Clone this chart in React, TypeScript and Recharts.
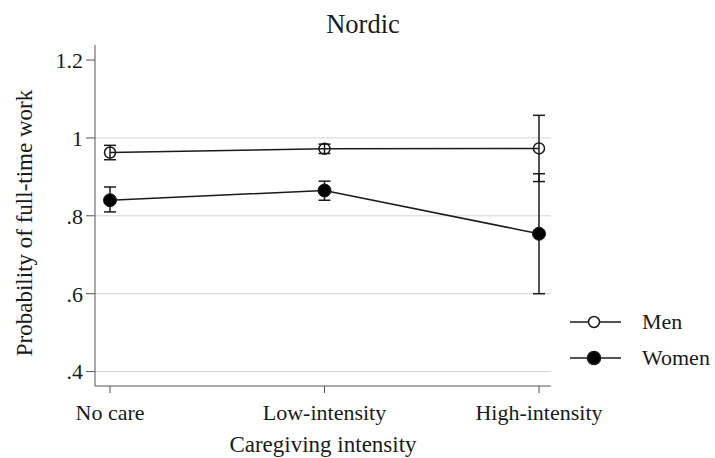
import { ErrorBar, Line, LineChart, ReferenceLine, XAxis, YAxis } from "recharts";

// Predicted probabilities with 95% CIs
const categories = ["No care", "Low-intensity", "High-intensity"];
const seriesNames = ["Men", "Women"];
const menValues = [0.9625, 0.972, 0.973];
const menLower = [0.944, 0.96, 0.888];
const menUpper = [0.981, 0.984, 1.058];
const womenValues = [0.84, 0.865, 0.754];
const womenLower = [0.81, 0.84, 0.6];
const womenUpper = [0.874, 0.889, 0.908];
const yTicks = [0.4, 0.6, 0.8, 1, 1.2];
const gridValues = [0.4, 0.6, 0.8, 1];

const data = categories.map((name, i) => ({
  x: i,
  name,
  men: menValues[i],
  menErr: [menValues[i] - menLower[i], menUpper[i] - menValues[i]],
  women: womenValues[i],
  womenErr: [womenValues[i] - womenLower[i], womenUpper[i] - womenValues[i]],
}));

const ink = "#1a1a1a";
const axisGray = "#555";
const font = "'Liberation Serif', 'Times New Roman', serif";
const fs = 22;
const titleFs = 23;

const fmtY = (v: number) => (v === 1 ? "1" : String(v).replace(/^0/, ""));

// title + legend drawn on top of the chart
function Overlay() {
  return (
    <svg width={715} height={458} style={{ position: "absolute", left: 0, top: 0, pointerEvents: "none" }}>
      <text x={363} y={33} textAnchor="middle" fontSize={26.5} fontFamily={font} fill={ink}>
        Nordic
      </text>
      {seriesNames.map((name, i) => {
        const y = 322 + i * 36;
        const hollow = i === 0;
        return (
          <g key={name}>
            <line x1={570} x2={621} y1={y} y2={y} stroke={ink} strokeWidth={1.5} />
            <circle cx={594} cy={y} r={hollow ? 5.5 : 6.5} fill={hollow ? "#fff" : "#000"} stroke={ink} strokeWidth={1.5} />
            <text x={642} y={y + 7} fontSize={fs} fontFamily={font} fill={ink}>
              {name}
            </text>
          </g>
        );
      })}
    </svg>
  );
}

export default function App() {
  return (
    <div style={{ position: "absolute", left: 0, top: 0, width: 715, height: 458, background: "#fff", fontFamily: font }}>
      <LineChart width={715} height={458} data={data} margin={{ top: 45, right: 164, bottom: 0, left: 0 }}>
        {gridValues.map((v) => (
          <ReferenceLine key={v} y={v} stroke="#d4d4d4" strokeWidth={1} />
        ))}
        <XAxis
          dataKey="x"
          type="number"
          domain={[-0.07, 2.056]}
          ticks={[0, 1, 2]}
          tickFormatter={(v: number) => categories[v]}
          height={72}
          stroke={axisGray}
          tickSize={7}
          tickMargin={11}
          tick={{ fill: ink, fontSize: fs, fontFamily: font }}
          allowDataOverflow
          label={{ value: "Caregiving intensity", position: "insideBottom", offset: 6, fill: ink, fontSize: titleFs, fontFamily: font }}
        />
        <YAxis
          type="number"
          domain={[0.363, 1.2386]}
          ticks={yTicks}
          tickFormatter={fmtY}
          width={95}
          stroke={axisGray}
          tickSize={9}
          tickMargin={3}
          tick={{ fill: ink, fontSize: fs, fontFamily: font }}
          allowDataOverflow
          label={{
            content: () => (
              <text x={32} y={223} transform="rotate(-90 32 223)" textAnchor="middle" fontSize={titleFs} fontFamily={font} fill={ink}>
                Probability of full-time work
              </text>
            ),
          }}
        />
        <Line
          name={seriesNames[0]}
          dataKey="men"
          stroke={ink}
          strokeWidth={1.5}
          dot={{ r: 5.5, fill: "none", stroke: ink, strokeWidth: 1.5 }}
          isAnimationActive={false}
        >
          <ErrorBar dataKey="menErr" width={6} stroke={ink} strokeWidth={1.5} direction="y" />
        </Line>
        <Line
          name={seriesNames[1]}
          dataKey="women"
          stroke={ink}
          strokeWidth={1.5}
          dot={{ r: 6.5, fill: "#000", stroke: ink, strokeWidth: 1 }}
          isAnimationActive={false}
        >
          <ErrorBar dataKey="womenErr" width={6} stroke={ink} strokeWidth={1.5} direction="y" />
        </Line>
      </LineChart>
      <Overlay />
    </div>
  );
}
